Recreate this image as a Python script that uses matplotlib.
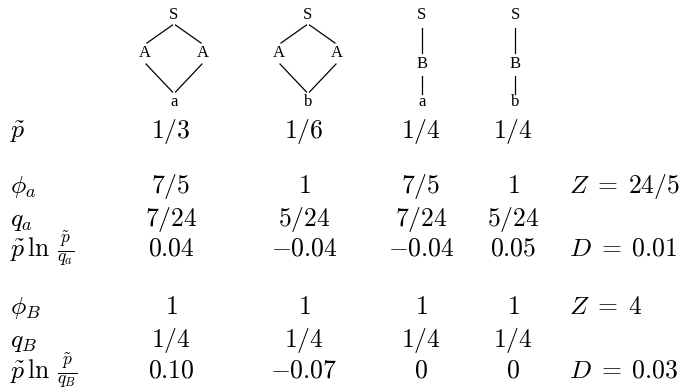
import matplotlib
matplotlib.use('Agg')
from matplotlib import pyplot as plt

plt.rcParams['mathtext.fontset'] = 'cm'

# Data.
leaves: list[str] = ['a', 'b', 'a', 'b']
middles: list[str] = ['A', 'A', 'B', 'B']
p_tilde: list[str] = ['1/3', '1/6', '1/4', '1/4']
phi_a: list[str] = ['7/5', '1', '7/5', '1']
q_a: list[str] = ['7/24', '5/24', '7/24', '5/24']
kl_a: list[float] = [0.04, -0.04, -0.04, 0.05]
phi_b: list[str] = ['1', '1', '1', '1']
q_b: list[str] = ['1/4', '1/4', '1/4', '1/4']
kl_b: list[float] = [0.10, -0.07, 0, 0]
z_a: str = '24/5'
d_a: float = 0.01
z_b: str = '4'
d_b: float = 0.03

# Layout (pixels).
col_x: list[int] = [171, 304, 421, 513]
tree_x: list[int] = [174, 308, 422, 515]
label_x: int = 10
frac_x: int = 57
extra_x: int = 569
font_size: float = 18.5
frac_size: float = 18
tree_font: float = 12


def fmt_kl(value: float) -> str:
    if value == 0:
        return '$0$'
    return f'${value:.2f}$'


def draw_tree(ax, x: float, middle: str, leaf: str) -> None:
    kw = dict(ha='center', va='center', fontsize=tree_font, family='Liberation Serif')
    ax.text(x, 15, 'S', **kw)
    ax.text(x, 102, leaf, **kw)
    if middle == 'A':
        dx = 29
        ax.text(x - dx, 53, middle, **kw)
        ax.text(x + dx, 53, middle, **kw)
        for side in (-1, 1):
            ax.plot([x + side * 1.5, x + side * (dx - 2)], [25, 43], color='black', lw=0.9)
            ax.plot([x + side * (dx - 1), x + side * 1.5], [64, 92], color='black', lw=0.9)
    else:
        ax.text(x, 64, middle, **kw)
        ax.plot([x, x], [28, 53], color='black', lw=0.9)
        ax.plot([x, x], [76, 94], color='black', lw=0.9)


fig = plt.figure(figsize=(6.8, 3.89), dpi=100)
ax = fig.add_axes([0, 0, 1, 1])
ax.set_xlim(0, 680)
ax.set_ylim(389, 0)
ax.axis('off')

for i in range(len(leaves)):
    draw_tree(ax, tree_x[i], middles[i], leaves[i])

# (label, fraction denominator or None, values, right-hand text, baseline y)
rows = [
    (r'$\tilde{p}$', None, [f'${v}$' for v in p_tilde], '', 138),
    (r'$\phi_a$', None, [f'${v}$' for v in phi_a], rf'$Z\;=\;{z_a}$', 193),
    (r'$q_a$', None, [f'${v}$' for v in q_a], '', 226),
    (r'$\tilde{p}\,\ln$', 'q_a', [fmt_kl(v) for v in kl_a], rf'$D\;=\;{d_a:.2f}$', 256),
    (r'$\phi_B$', None, [f'${v}$' for v in phi_b], rf'$Z\;=\;{z_b}$', 314),
    (r'$q_B$', None, [f'${v}$' for v in q_b], '', 347),
    (r'$\tilde{p}\,\ln$', 'q_B', [fmt_kl(v) for v in kl_b], rf'$D\;=\;{d_b:.2f}$', 378),
]

for label, denom, values, extra, y in rows:
    ax.text(label_x, y, label, ha='left', va='baseline', fontsize=font_size)
    if denom:
        ax.text(frac_x, y, rf'$\frac{{\tilde{{p}}}}{{{denom}}}$', ha='left', va='baseline', fontsize=frac_size)
    for x, v in zip(col_x, values):
        ax.text(x, y, v, ha='center', va='baseline', fontsize=font_size)
    if extra:
        ax.text(extra_x, y, extra, ha='left', va='baseline', fontsize=font_size)

fig.savefig('out.png', dpi=100)
